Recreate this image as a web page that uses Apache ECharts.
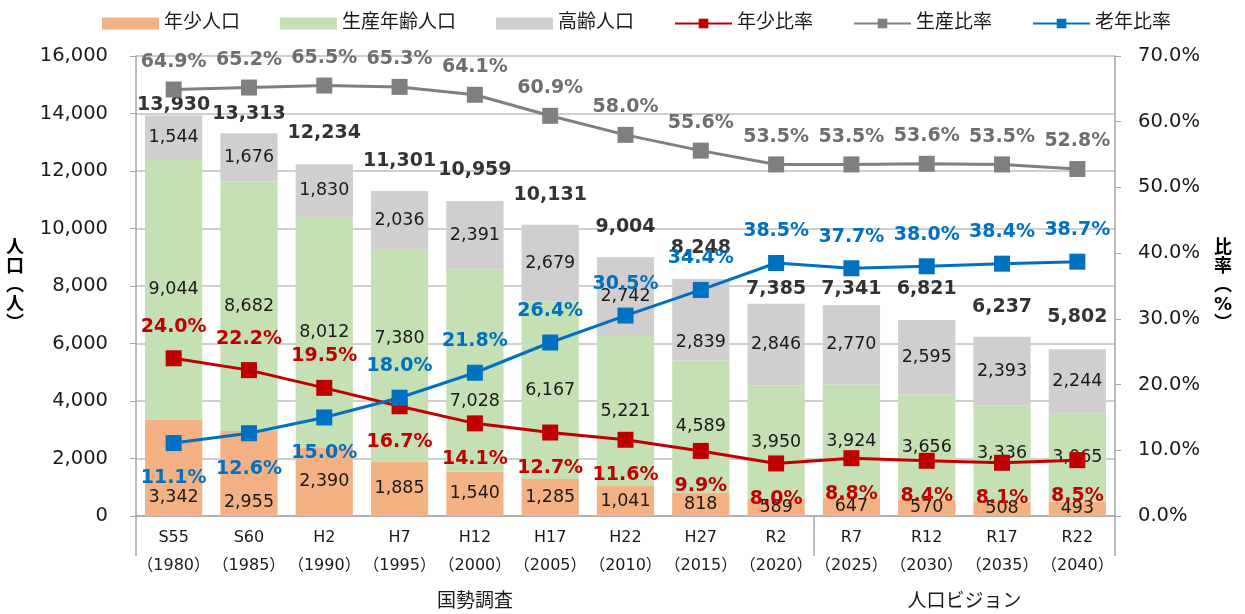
<!DOCTYPE html>
<html>
<head>
<meta charset="utf-8">
<title>人口推移</title>
<script src="https://cdn.jsdelivr.net/npm/echarts@6/dist/echarts.min.js"></script>
<style>html,body{margin:0;padding:0;background:#fff;}</style>
</head>
<body>
<div id="main" style="width:1245px;height:614px;"></div>
<script>
// 年次
var eras = ['S55', 'S60', 'H2', 'H7', 'H12', 'H17', 'H22', 'H27', 'R2', 'R7', 'R12', 'R17', 'R22'];
var years = ['1980', '1985', '1990', '1995', '2000', '2005', '2010', '2015', '2020', '2025', '2030', '2035', '2040'];
var groups = ['国勢調査', '人口ビジョン'];
var groupSizes = [9, 4];

// 人口（人）
var young = [3342, 2955, 2390, 1885, 1540, 1285, 1041, 818, 589, 647, 570, 508, 493];
var working = [9044, 8682, 8012, 7380, 7028, 6167, 5221, 4589, 3950, 3924, 3656, 3336, 3065];
var old = [1544, 1676, 1830, 2036, 2391, 2679, 2742, 2839, 2846, 2770, 2595, 2393, 2244];
var totals = [13930, 13313, 12234, 11301, 10959, 10131, 9004, 8248, 7385, 7341, 6821, 6237, 5802];

// 比率（%）
var youngRate = [24.0, 22.2, 19.5, 16.7, 14.1, 12.7, 11.6, 9.9, 8.0, 8.8, 8.4, 8.1, 8.5];
var workRate = [64.9, 65.2, 65.5, 65.3, 64.1, 60.9, 58.0, 55.6, 53.5, 53.5, 53.6, 53.5, 52.8];
var oldRate = [11.1, 12.6, 15.0, 18.0, 21.8, 26.4, 30.5, 34.4, 38.5, 37.7, 38.0, 38.4, 38.7];

// ラベルの配置（手動調整分）
var youngLabelPos = ['top', 'top', 'top', 'bottom', 'bottom', 'bottom', 'bottom', 'bottom', 'bottom', 'bottom', 'bottom', 'bottom', 'bottom'];
var oldLabelPos = ['bottom', 'bottom', 'bottom', 'top', 'top', 'top', 'top', 'top', 'top', 'top', 'top', 'top', 'top'];
var totalLabelGap = [0, 9, 21, 20, 21, 20, 20, 21, 5, 6, 21, 20, 22];
var youngLabelBottom = [10, 5];            // 先頭2本は下寄せ
var workLabelShift = [0, 0, 0, -17, 31, 0, 0, 0, 0, 0, 0, 0, 0];
var oldLabelShift = [0, 0, 0, 0, 0, 0, 0, 23, 0, 0, 0, 0, 0];

var FONT = "'DejaVu Sans','Noto Sans CJK JP',sans-serif";
var categories = eras.map(function (e, i) { return e + '\n（' + years[i] + '）'; });

// グループ境界と中心
var groupTicks = [0], groupCenters = [], acc = 0;
groupSizes.forEach(function (n) {
    groupCenters.push(acc + n / 2);
    acc += n;
    groupTicks.push(acc);
});

function fmt(v) { return v.toLocaleString('en-US'); }
function pct(p) { return p.value.toFixed(1) + '%'; }

var myChart = echarts.init(document.getElementById('main'));

var barLabel = { show: true, fontSize: 17.5, color: '#1a1a1a', fontFamily: FONT, formatter: function (p) { return fmt(p.value); } };
var rateLabel = { show: true, fontSize: 19, fontWeight: 'bold', fontFamily: FONT, formatter: pct };

var option = {
    textStyle: { fontFamily: FONT },
    animation: false,
    legend: {
        top: 9,
        left: 97,
        itemWidth: 57,
        itemHeight: 12,
        itemGap: 40,
        textStyle: { fontSize: 19, color: '#1a1a1a', fontFamily: FONT },
        data: [
            { name: '年少人口', icon: 'rect' },
            { name: '生産年齢人口', icon: 'rect' },
            { name: '高齢人口', icon: 'rect' },
            '年少比率', '生産比率', '老年比率'
        ]
    },
    grid: { left: 136, right: 130, top: 56, bottom: 98, containLabel: false },
    xAxis: [{
        type: 'category',
        data: categories,
        axisLine: { lineStyle: { color: '#A6A6A6', width: 1.5 } },
        axisTick: { length: 60, lineStyle: { color: '#A6A6A6', width: 1.5 } },
        axisLabel: { interval: 0, fontSize: 16, lineHeight: 28, margin: 8, color: '#1a1a1a', fontFamily: FONT }
    }, {
        type: 'value',
        min: 0,
        max: eras.length,
        position: 'bottom',
        offset: 60,
        axisLine: { show: false },
        splitLine: { show: false },
        axisTick: { show: true, length: 40, customValues: groupTicks, lineStyle: { color: '#A6A6A6', width: 1.5 } },
        axisLabel: {
            customValues: groupCenters,
            margin: 17,
            fontSize: 19,
            color: '#1a1a1a',
            fontFamily: FONT,
            formatter: function (v) { return groups[groupCenters.indexOf(v)] || ''; }
        }
    }],
    yAxis: [{
        type: 'value',
        min: 0, max: 16000, interval: 2000,
        name: '人\n口\n︵\n人\n︶',
        nameLocation: 'middle',
        nameRotate: 0,
        nameGap: 112,
        nameTextStyle: { fontSize: 18, fontWeight: 'bold', lineHeight: 19, color: '#000', fontFamily: FONT, padding: [16, 0, 0, 0] },
        axisLine: { show: true, lineStyle: { color: '#A6A6A6', width: 1.5 } },
        axisTick: { show: true, length: 6, lineStyle: { color: '#A6A6A6' } },
        splitLine: { lineStyle: { color: '#BFBFBF', width: 1.5 } },
        axisLabel: { fontSize: 19.5, margin: 28, color: '#1a1a1a', fontFamily: FONT, formatter: fmt }
    }, {
        type: 'value',
        min: 0, max: 70, interval: 10,
        position: 'right',
        name: '比\n率\n︵\n%\n︶',
        nameLocation: 'middle',
        nameRotate: 0,
        nameGap: 99,
        nameTextStyle: { fontSize: 18, fontWeight: 'bold', lineHeight: 19, color: '#000', fontFamily: FONT, padding: [16, 0, 0, 0] },
        axisLine: { show: true, lineStyle: { color: '#A6A6A6', width: 1.5 } },
        axisTick: { show: true, length: 6, lineStyle: { color: '#A6A6A6' } },
        splitLine: { show: false },
        axisLabel: { fontSize: 19.5, margin: 23, color: '#1a1a1a', fontFamily: FONT, formatter: function (v) { return v.toFixed(1) + '%'; } }
    }],
    series: [{
        name: '年少人口',
        type: 'bar',
        stack: 'pop',
        barWidth: '76%',
        itemStyle: { color: '#F4B183' },
        label: barLabel,
        data: young.map(function (v, i) {
            var d = youngLabelBottom[i];
            return { value: v, label: d !== undefined ? { position: 'insideBottom', distance: d } : { position: 'inside' } };
        })
    }, {
        name: '生産年齢人口',
        type: 'bar',
        stack: 'pop',
        itemStyle: { color: '#C5E0B4' },
        label: echarts.util.extend({ position: 'inside' }, barLabel),
        data: working.map(function (v, i) { return { value: v, label: { offset: [0, workLabelShift[i]] } }; })
    }, {
        name: '高齢人口',
        type: 'bar',
        stack: 'pop',
        itemStyle: { color: '#D0CECE' },
        label: echarts.util.extend({ position: 'inside' }, barLabel),
        data: old.map(function (v, i) { return { value: v, label: { offset: [0, oldLabelShift[i]] } }; })
    }, {
        name: '合計',
        type: 'scatter',
        symbolSize: 1,
        itemStyle: { color: 'rgba(0,0,0,0)' },
        z: 5,
        label: { show: true, position: 'top', fontSize: 19, fontWeight: 'bold', color: '#000', fontFamily: FONT, formatter: function (p) { return fmt(p.value[1]); } },
        data: totals.map(function (v, i) {
            return { value: [i, v], label: { distance: totalLabelGap[i] } };
        })
    }, {
        name: '年少比率',
        type: 'line',
        yAxisIndex: 1,
        symbol: 'rect',
        symbolSize: 16,
        z: 6,
        itemStyle: { color: '#C00000' },
        lineStyle: { width: 3, color: '#C00000' },
        label: echarts.util.extend({ color: '#C00000' }, rateLabel),
        data: youngRate.map(function (v, i) {
            var top = youngLabelPos[i] === 'top';
            return { value: v, label: { position: youngLabelPos[i], distance: top ? 14 : 18 } };
        })
    }, {
        name: '生産比率',
        type: 'line',
        yAxisIndex: 1,
        symbol: 'rect',
        symbolSize: 16,
        z: 6,
        itemStyle: { color: '#7F7F7F' },
        lineStyle: { width: 3, color: '#7F7F7F' },
        label: echarts.util.extend({ color: '#6E6E6E', position: 'top', distance: 10 }, rateLabel),
        data: workRate
    }, {
        name: '老年比率',
        type: 'line',
        yAxisIndex: 1,
        symbol: 'rect',
        symbolSize: 16,
        z: 6,
        itemStyle: { color: '#0070C0' },
        lineStyle: { width: 3, color: '#0070C0' },
        label: echarts.util.extend({ color: '#0070C0' }, rateLabel),
        data: oldRate.map(function (v, i) {
            var top = oldLabelPos[i] === 'top';
            return { value: v, label: { position: oldLabelPos[i], distance: top ? 14 : 18 } };
        })
    }]
};

myChart.setOption(option);
</script>
</body>
</html>
